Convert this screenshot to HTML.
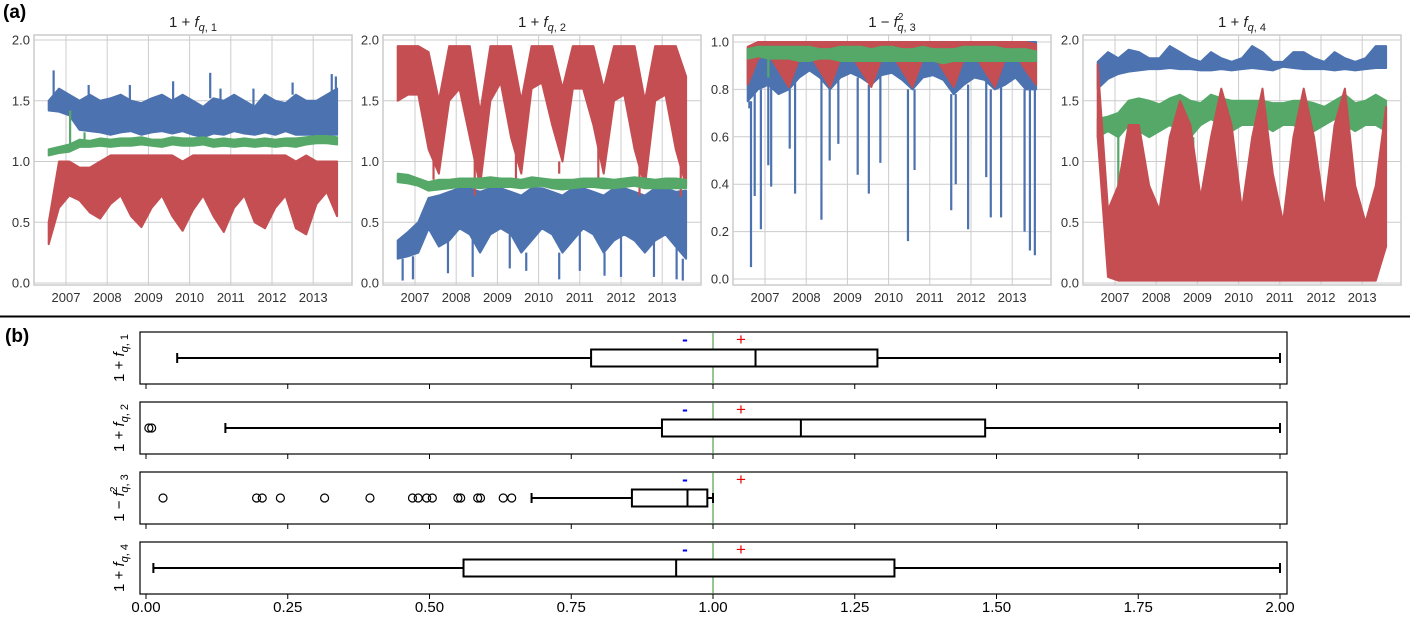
<!DOCTYPE html>
<html><head><meta charset="utf-8">
<style>
html,body{margin:0;padding:0;background:#fff;}
svg{display:block;font-family:"Liberation Sans","DejaVu Sans",sans-serif;}
</style></head>
<body>
<svg id="chart" width="1410" height="617" viewBox="0 0 1410 617">
<text x="3" y="18" font-size="19" font-weight="bold">(a)</text>
<text x="5" y="342" font-size="19" font-weight="bold">(b)</text>
<line x1="0" y1="316.5" x2="1410" y2="316.5" stroke="#000" stroke-width="2"/>
</svg>
<script>
// ---------- shared data ----------
const quarterT = [2006.58,2006.83,2007.08,2007.33,2007.58,2007.83,2008.08,2008.33,2008.58,2008.83,2009.08,2009.33,2009.58,2009.83,2010.08,2010.33,2010.58,2010.83,2011.08,2011.33,2011.58,2011.83,2012.08,2012.33,2012.58,2012.83,2013.08,2013.33,2013.58];
const yearTicks = [2007,2008,2009,2010,2011,2012,2013];
const ticks2 = [0.0,0.5,1.0,1.5,2.0];
const ticks1 = [0.0,0.2,0.4,0.6,0.8,1.0];

// panel 1
const p1BlueLo = [1.42,1.41,1.38,1.26,1.25,1.24,1.22,1.24,1.25,1.22,1.24,1.25,1.23,1.25,1.22,1.20,1.23,1.22,1.25,1.23,1.22,1.24,1.22,1.25,1.22,1.22,1.22,1.22,1.22];
const p1BlueHi = [1.5,1.6,1.55,1.5,1.55,1.5,1.52,1.55,1.5,1.48,1.52,1.55,1.5,1.55,1.5,1.45,1.52,1.5,1.55,1.5,1.45,1.55,1.5,1.48,1.55,1.5,1.5,1.55,1.6];
const p1BlueSpikeT = [2006.7,2007.55,2008.55,2009.6,2010.5,2010.75,2011.55,2012.5,2013.45,2013.55];
const p1BlueSpikeV = [1.75,1.63,1.63,1.66,1.73,1.6,1.6,1.65,1.72,1.7];
const p1RedLo = [0.32,0.62,0.72,0.68,0.58,0.53,0.65,0.72,0.55,0.46,0.62,0.72,0.55,0.43,0.6,0.72,0.55,0.42,0.62,0.72,0.5,0.45,0.62,0.72,0.45,0.40,0.65,0.75,0.55];
const p1RedHi = [0.5,1.0,1.0,0.95,0.95,1.0,1.05,1.05,1.05,1.05,1.05,1.05,1.05,1.0,1.05,1.05,1.05,1.05,1.05,1.05,1.05,1.05,1.05,1.05,1.0,1.05,1.0,1.0,1.0];
const p1GreenLo = [1.05,1.07,1.08,1.12,1.12,1.13,1.12,1.13,1.13,1.14,1.13,1.12,1.14,1.13,1.13,1.14,1.12,1.13,1.12,1.13,1.12,1.13,1.12,1.13,1.12,1.14,1.15,1.15,1.14];
const p1GreenHi = [1.1,1.12,1.14,1.18,1.17,1.19,1.18,1.19,1.19,1.2,1.18,1.18,1.2,1.19,1.19,1.2,1.18,1.19,1.18,1.19,1.18,1.19,1.18,1.19,1.19,1.2,1.21,1.21,1.2];
const p1GreenSpikeT = [2007.1,2007.45];
const p1GreenSpikeV = [1.42,1.24];

// panel 2
const p2RedLo = [1.5,1.55,1.55,1.1,0.9,1.5,1.6,1.2,0.8,1.5,1.65,1.2,0.9,1.6,1.65,1.3,1.0,1.6,1.6,1.3,0.9,1.5,1.55,1.1,0.8,1.5,1.55,1.1,0.8];
const p2RedHi = [1.95,1.95,1.95,1.9,1.5,1.95,1.95,1.95,1.4,1.95,1.95,1.95,1.5,1.95,1.95,1.95,1.6,1.95,1.95,1.95,1.6,1.95,1.95,1.95,1.5,1.95,1.95,1.95,1.7];
const p2RedSpikeT = [2007.45,2008.45,2009.45,2010.5,2011.45,2012.45,2013.45];
const p2RedSpikeV = [0.85,0.72,0.8,0.9,0.85,0.72,0.71];
const p2GreenLo = [0.83,0.82,0.80,0.76,0.77,0.78,0.79,0.79,0.78,0.79,0.79,0.79,0.78,0.79,0.80,0.78,0.77,0.78,0.79,0.79,0.78,0.78,0.79,0.80,0.78,0.78,0.78,0.78,0.78];
const p2GreenHi = [0.9,0.89,0.86,0.83,0.85,0.85,0.86,0.86,0.86,0.87,0.86,0.86,0.85,0.87,0.86,0.85,0.85,0.85,0.86,0.86,0.86,0.85,0.86,0.87,0.86,0.85,0.86,0.86,0.85];
const p2BlueLo = [0.2,0.22,0.25,0.45,0.3,0.35,0.45,0.4,0.25,0.4,0.45,0.4,0.25,0.35,0.45,0.4,0.25,0.35,0.45,0.4,0.25,0.35,0.4,0.35,0.25,0.35,0.4,0.3,0.2];
const p2BlueHi = [0.35,0.42,0.5,0.7,0.72,0.75,0.78,0.78,0.75,0.78,0.78,0.75,0.72,0.78,0.78,0.75,0.72,0.78,0.78,0.75,0.72,0.78,0.78,0.75,0.72,0.78,0.78,0.75,0.76];
const p2BlueSpikeT = [2006.7,2006.95,2007.8,2008.4,2009.3,2009.7,2010.5,2011.0,2011.6,2012.0,2012.8,2013.35,2013.5];
const p2BlueSpikeV = [0.02,0.03,0.08,0.05,0.12,0.1,0.03,0.1,0.06,0.05,0.05,0.03,0.02];

// panel 3
const p3BlueLo = [0.75,0.8,0.82,0.78,0.8,0.85,0.88,0.85,0.8,0.85,0.87,0.85,0.82,0.86,0.87,0.84,0.8,0.85,0.86,0.84,0.78,0.82,0.85,0.84,0.8,0.82,0.85,0.8,0.8];
const p3BlueHi = [0.97,1.0,1.0,1.0,1.0,1.0,1.0,1.0,1.0,1.0,1.0,1.0,1.0,1.0,1.0,1.0,1.0,1.0,1.0,1.0,1.0,1.0,1.0,1.0,1.0,1.0,1.0,1.0,1.0];
const p3BlueSpikeT = [2006.62,2006.66,2006.75,2006.9,2007.08,2007.15,2007.6,2007.73,2008.37,2008.57,2008.78,2009.25,2009.52,2009.8,2010.47,2010.63,2011.52,2011.63,2011.93,2012.37,2012.48,2012.73,2013.3,2013.43,2013.55];
const p3BlueSpikeV = [0.72,0.05,0.35,0.21,0.48,0.39,0.55,0.36,0.25,0.5,0.57,0.44,0.36,0.49,0.16,0.46,0.29,0.4,0.21,0.43,0.26,0.26,0.2,0.12,0.1];
const p3RedLo = [0.82,0.93,0.95,0.88,0.81,0.93,0.95,0.88,0.81,0.93,0.95,0.88,0.81,0.93,0.95,0.88,0.81,0.93,0.95,0.88,0.81,0.93,0.95,0.88,0.81,0.93,0.95,0.88,0.82];
const p3RedHi = [0.98,1.0,1.0,1.0,1.0,1.0,1.0,1.0,1.0,1.0,1.0,1.0,1.0,1.0,1.0,1.0,1.0,1.0,1.0,1.0,1.0,1.0,1.0,1.0,1.0,1.0,1.0,1.0,0.99];
const p3GreenLo = [0.93,0.94,0.93,0.93,0.93,0.92,0.92,0.93,0.93,0.92,0.92,0.92,0.92,0.92,0.92,0.92,0.92,0.92,0.92,0.91,0.92,0.92,0.92,0.92,0.92,0.92,0.92,0.92,0.92];
const p3GreenHi = [0.97,0.98,0.98,0.98,0.98,0.98,0.98,0.97,0.97,0.98,0.98,0.98,0.97,0.98,0.98,0.97,0.97,0.98,0.97,0.97,0.97,0.98,0.98,0.98,0.98,0.97,0.97,0.97,0.96];
const p3GreenSpikeT = [2007.08];
const p3GreenSpikeV = [0.85];

// panel 4
const p4BlueLo = [1.6,1.68,1.72,1.74,1.75,1.76,1.76,1.77,1.76,1.76,1.75,1.75,1.76,1.75,1.76,1.77,1.76,1.75,1.78,1.77,1.76,1.76,1.76,1.75,1.76,1.75,1.76,1.77,1.77];
const p4BlueHi = [1.82,1.9,1.85,1.92,1.9,1.85,1.85,1.95,1.9,1.85,1.82,1.9,1.85,1.82,1.85,1.95,1.9,1.82,1.82,1.9,1.9,1.85,1.82,1.9,1.85,1.82,1.85,1.95,1.95];
const p4RedLo = [1.2,0.05,0.02,0.02,0.02,0.02,0.02,0.02,0.02,0.02,0.02,0.02,0.02,0.02,0.02,0.02,0.02,0.02,0.02,0.02,0.02,0.02,0.02,0.02,0.02,0.02,0.02,0.02,0.3];
const p4RedHi = [1.8,0.6,0.8,1.3,1.3,0.8,0.6,1.2,1.5,1.3,0.7,1.2,1.6,1.3,0.6,1.2,1.6,0.9,0.5,1.2,1.6,1.2,0.6,1.3,1.6,0.8,0.5,0.8,1.45];
const p4GreenLo = [1.2,1.25,1.2,1.3,1.25,1.2,1.25,1.3,1.25,1.2,1.3,1.35,1.3,1.25,1.3,1.3,1.3,1.25,1.3,1.3,1.25,1.25,1.3,1.35,1.3,1.25,1.3,1.3,1.25];
const p4GreenHi = [1.35,1.37,1.4,1.5,1.52,1.5,1.47,1.52,1.55,1.5,1.48,1.55,1.52,1.5,1.5,1.5,1.5,1.48,1.48,1.5,1.5,1.48,1.45,1.5,1.55,1.48,1.5,1.55,1.5];
const p4GreenSpikeT = [2007.08,2007.6,2008.9,2009.6,2011.7,2012.5];
const p4GreenSpikeV = [0.55,1.0,1.0,1.15,1.05,1.05];

// box plots
const boxLabels = ["1 + f_q,1","1 + f_q,2","1 - f²_q,3","1 + f_q,4"];
const boxWhiskerLo = [0.055,0.14,0.68,0.013];
const boxWhiskerHi = [2.0,2.0,1.0,2.0];
const boxQ1 = [0.785,0.91,0.857,0.56];
const boxMedian = [1.075,1.155,0.955,0.935];
const boxQ3 = [1.29,1.48,0.99,1.32];
const boxOutliers = [[],[0.005,0.01],[0.03,0.195,0.205,0.237,0.315,0.395,0.47,0.48,0.495,0.505,0.55,0.555,0.585,0.59,0.63,0.645],[]];
const boxXTicks = [0.00,0.25,0.50,0.75,1.00,1.25,1.50,1.75,2.00];

// ---------- drawing ----------
const svg = document.getElementById('chart');
const NS = 'http://www.w3.org/2000/svg';
function mk(tag, attrs, parent){
  const e = document.createElementNS(NS, tag);
  for (const k in attrs) e.setAttribute(k, attrs[k]);
  (parent||svg).appendChild(e);
  return e;
}
const BLUE='#4c72b0', RED='#c44e52', GREEN='#55a868';

function drawPanel(idx, left, yZero, yScale, yTicks, yFmt, titleParts, series){
  const g = mk('g', {});
  
  
  const right = left + 318, top = 35, bottom = 285;
  const xOf = t => left + 32 + (t - 2007) * 41.2;
  const yOf = v => yZero - v * yScale;
  yTicks.forEach(v => {
    const l = mk('line', {x1:left, x2:right, y1:yOf(v), y2:yOf(v), stroke:'#cccccc', 'stroke-width':1}, g);
    
    
    const tx = mk('text', {x:left-4, y:yOf(v)+4.5, 'text-anchor':'end', 'font-size':13, fill:'#333'}, g);
    tx.textContent = yFmt(v);
    
    
  });
  yearTicks.forEach(yr => {
    const l = mk('line', {x1:xOf(yr), x2:xOf(yr), y1:top, y2:bottom, stroke:'#cccccc', 'stroke-width':1}, g);
    
    
    const tx = mk('text', {x:xOf(yr), y:bottom+17, 'text-anchor':'middle', 'font-size':13, fill:'#333'}, g);
    tx.textContent = String(yr);
    
    
  });
  mk('rect', {x:left, y:top, width:318, height:bottom-top, fill:'none', stroke:'#cccccc', 'stroke-width':1.5}, g);
  series.forEach(s => {
    let pts = quarterT.map((t,i) => xOf(t)+','+yOf(s.hi[i]));
    for (let i = quarterT.length-1; i >= 0; i--) pts.push(xOf(quarterT[i])+','+yOf(s.lo[i]));
    const p = mk('polygon', {points:pts.join(' '), fill:s.color, stroke:s.color, 'stroke-width':2, 'stroke-linejoin':'round'}, g);
    
    
    if (s.spT) {
      s.spT.forEach((t,i) => {
        let j = 0, best = 1e9;
        quarterT.forEach((q,k) => { if (Math.abs(q-t) < best){best = Math.abs(q-t); j = k;} });
        const base = s.spV[i] > s.hi[j] ? s.hi[j] : s.lo[j];
        const l = mk('line', {x1:xOf(t), x2:xOf(t), y1:yOf(base), y2:yOf(s.spV[i]), stroke:s.color, 'stroke-width':2.2}, g);
        
        
      });
    }
  });
  const tt = mk('text', {x:left+159, y:27, 'text-anchor':'middle', 'font-size':15, fill:'#222'}, g);
  
  
  titleParts.forEach(p => {
    const ts = mk('tspan', p.attrs || {}, tt);
    ts.textContent = p.text;
  });
}

const f1 = v => v.toFixed(1);
function titleFor(sign, n, sq){
  const parts = [{text:'1 '+sign+' '},{text:'f', attrs:{'font-style':'italic'}}];
  if (sq) parts.push({text:'2', attrs:{'font-size':10, dy:-7}});
  parts.push({text:'q', attrs:{'font-style':'italic','font-size':11, dy: sq? 11 : 4, dx: sq? -6 : 0}});
  parts.push({text:', '+n, attrs:{'font-size':11}});
  return parts;
}
drawPanel(1, 34, 283, 121.5, ticks2, f1, titleFor('+',1,false), [
  {name:'blue', color:BLUE, lo:p1BlueLo, hi:p1BlueHi, spT:p1BlueSpikeT, spV:p1BlueSpikeV},
  {name:'red', color:RED, lo:p1RedLo, hi:p1RedHi},
  {name:'green', color:GREEN, lo:p1GreenLo, hi:p1GreenHi, spT:p1GreenSpikeT, spV:p1GreenSpikeV}
]);
drawPanel(2, 383, 283, 121.5, ticks2, f1, titleFor('+',2,false), [
  {name:'blue', color:BLUE, lo:p2BlueLo, hi:p2BlueHi, spT:p2BlueSpikeT, spV:p2BlueSpikeV},
  {name:'red', color:RED, lo:p2RedLo, hi:p2RedHi, spT:p2RedSpikeT, spV:p2RedSpikeV},
  {name:'green', color:GREEN, lo:p2GreenLo, hi:p2GreenHi}
]);
drawPanel(3, 733, 279, 237, ticks1, f1, titleFor('−',3,true), [
  {name:'blue', color:BLUE, lo:p3BlueLo, hi:p3BlueHi, spT:p3BlueSpikeT, spV:p3BlueSpikeV},
  {name:'red', color:RED, lo:p3RedLo, hi:p3RedHi},
  {name:'green', color:GREEN, lo:p3GreenLo, hi:p3GreenHi, spT:p3GreenSpikeT, spV:p3GreenSpikeV}
]);
drawPanel(4, 1083, 283, 121.5, ticks2, f1, titleFor('+',4,false), [
  {name:'blue', color:BLUE, lo:p4BlueLo, hi:p4BlueHi},
  {name:'green', color:GREEN, lo:p4GreenLo, hi:p4GreenHi, spT:p4GreenSpikeT, spV:p4GreenSpikeV},
  {name:'red', color:RED, lo:p4RedLo, hi:p4RedHi}
]);

// box plots
const bx = v => 146 + v * 567;
const rowTops = [332,402,472,542];
const rowLabelNums = ['1','2','3','4'];
boxLabels.forEach((lab, r) => {
  const g = mk('g', {});
  
  
  const top = rowTops[r], h = 52, cy = top + 26;
  mk('rect', {x:140, y:top, width:1147, height:h, fill:'#fff', stroke:'#000', 'stroke-width':1.2}, g);
  boxXTicks.forEach(v => mk('line', {x1:bx(v), x2:bx(v), y1:top+h, y2:top+h+5, stroke:'#000', 'stroke-width':1}, g));
  const ref = mk('line', {x1:bx(1), x2:bx(1), y1:top, y2:top+h, stroke:'#2e8b2e', 'stroke-width':1}, g);
  
  
  const mn = mk('text', {x:685, y:top+13, 'text-anchor':'middle', 'font-size':17, 'font-weight':'bold', fill:'#0000ee'}, g);
  mn.textContent = '-';
  
  
  const pl = mk('text', {x:741, y:top+13, 'text-anchor':'middle', 'font-size':17, fill:'#ee0000'}, g);
  pl.textContent = '+';
  
  
  const wl = mk('line', {x1:bx(boxWhiskerLo[r]), x2:bx(boxQ1[r]), y1:cy, y2:cy, stroke:'#000', 'stroke-width':2}, g);
  
  
  const wh = mk('line', {x1:bx(boxQ3[r]), x2:bx(boxWhiskerHi[r]), y1:cy, y2:cy, stroke:'#000', 'stroke-width':2}, g);
  
  
  [boxWhiskerLo[r], boxWhiskerHi[r]].forEach(v => mk('line', {x1:bx(v), x2:bx(v), y1:cy-5, y2:cy+5, stroke:'#000', 'stroke-width':2}, g));
  const bxr = mk('rect', {x:bx(boxQ1[r]), y:cy-8.5, width:bx(boxQ3[r])-bx(boxQ1[r]), height:17, fill:'#fff', stroke:'#000', 'stroke-width':2}, g);
  
  
  const md = mk('line', {x1:bx(boxMedian[r]), x2:bx(boxMedian[r]), y1:cy-8.5, y2:cy+8.5, stroke:'#000', 'stroke-width':2}, g);
  
  
  boxOutliers[r].forEach(v => {
    const c = mk('circle', {cx:bx(v), cy:cy, r:4, fill:'none', stroke:'#000', 'stroke-width':1.2}, g);
    
    
  });
  const sq = r === 2;
  const yl = mk('text', {transform:'translate(124,'+cy+') rotate(-90)', 'text-anchor':'middle', 'font-size':15, fill:'#000'}, g);
  
  
  const parts = titleFor(sq ? '−' : '+', rowLabelNums[r], sq);
  parts.forEach(p => { const ts = mk('tspan', p.attrs||{}, yl); ts.textContent = p.text; });
});
boxXTicks.forEach(v => {
  const t = mk('text', {x:bx(v), y:612, 'text-anchor':'middle', 'font-size':15, fill:'#000'});
  t.textContent = v.toFixed(2);
  
  
});
</script>
</body></html>
